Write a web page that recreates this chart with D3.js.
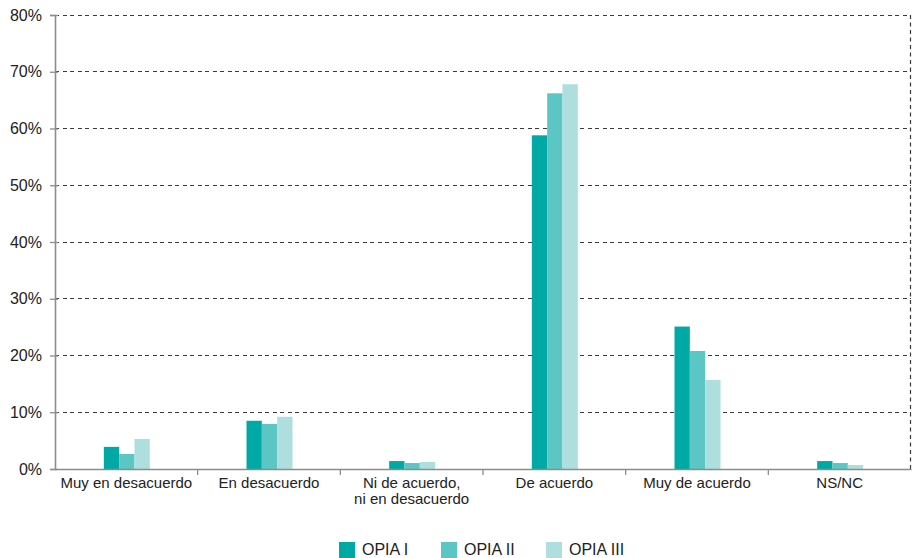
<!DOCTYPE html>
<html>
<head>
<meta charset="utf-8">
<script src="https://cdn.jsdelivr.net/npm/d3@7"></script>
<style>
  html, body { margin: 0; padding: 0; background: #fff; }
  svg { display: block; font-family: "Liberation Sans", Arial, sans-serif; }
</style>
</head>
<body>
<svg id="chart" width="912" height="558"></svg>
<script>
// Response categories (second line after "\n")
const categories = [
  "Muy en desacuerdo",
  "En desacuerdo",
  "Ni de acuerdo,\nni en desacuerdo",
  "De acuerdo",
  "Muy de acuerdo",
  "NS/NC"
];
const seriesNames = ["OPIA I", "OPIA II", "OPIA III"];
const opia1 = [3.9, 8.5, 1.4, 58.8, 25.1, 1.4];
const opia2 = [2.65, 7.95, 1.05, 66.2, 20.8, 1.05];
const opia3 = [5.3, 9.2, 1.25, 67.8, 15.7, 0.7];
const seriesColors = ["#00a9a6", "#5bc6c4", "#aedfde"];
const yTicks = [0, 10, 20, 30, 40, 50, 60, 70, 80];

const seriesValues = [opia1, opia2, opia3];
const rows = categories.map((c, i) => ({
  cat: c,
  vals: seriesNames.map((s, j) => ({ key: s, value: seriesValues[j][i], color: seriesColors[j] }))
}));

const margin = { left: 55, right: 1, top: 15, bottom: 89 };
const W = 912, H = 558;
const svg = d3.select("#chart");

const x = d3.scaleBand().domain(categories).range([margin.left, W - margin.right]).paddingInner(0).paddingOuter(0);
const y = d3.scaleLinear().domain([0, 80]).range([H - margin.bottom, margin.top]);
const groupWidth = 46;
const xs = d3.scaleBand().domain(seriesNames).range([0, groupWidth]);

// dashed gridlines
svg.append("g").selectAll("line").data(yTicks.filter(t => t > 0)).join("line")
  .attr("x1", margin.left).attr("x2", W - margin.right)
  .attr("y1", d => y(d)).attr("y2", d => y(d))
  .attr("stroke", "#3a3a3a").attr("stroke-width", 1).attr("stroke-dasharray", "4,3.5")
  .attr("shape-rendering", "crispEdges");

// right frame edge (dashed)
svg.append("line")
  .attr("x1", W - margin.right - 0.5).attr("x2", W - margin.right - 0.5)
  .attr("y1", y(80)).attr("y2", y(0))
  .attr("stroke", "#3a3a3a").attr("stroke-width", 1.2).attr("stroke-dasharray", "4,3.5");

// bars
const groups = svg.append("g").selectAll("g").data(rows).join("g")
  .attr("transform", d => `translate(${x(d.cat) + x.bandwidth() / 2 - groupWidth / 2 + 0.5},0)`);
groups.selectAll("rect").data(d => d.vals).join("rect")
  .attr("x", d => xs(d.key))
  .attr("width", xs.bandwidth())
  .attr("y", d => y(d.value))
  .attr("height", d => y(0) - y(d.value))
  .attr("fill", d => d.color);

// y axis
const yAxis = svg.append("g").attr("transform", `translate(${margin.left},0)`)
  .call(d3.axisLeft(y).tickValues(yTicks).tickFormat(d => d + "%").tickSize(5).tickPadding(8));
yAxis.select(".domain").attr("stroke", "#8c8c8c").attr("stroke-width", 1.6);
yAxis.selectAll(".tick line").attr("stroke", "#8c8c8c").attr("stroke-width", 1.3).attr("x2", 3).attr("x1", -5);
yAxis.selectAll(".tick text").attr("fill", "#222").attr("font-size", 16).attr("font-family", "Liberation Sans, Arial, sans-serif");

// x axis
const xAxis = svg.append("g").attr("transform", `translate(0,${y(0)})`)
  .call(d3.axisBottom(x).tickSize(0).tickFormat(""));
xAxis.select(".domain").attr("stroke", "#8c8c8c").attr("stroke-width", 1.6);
xAxis.selectAll(".tick").remove();

// boundary ticks between categories
svg.append("g").selectAll("line").data(categories.slice(1)).join("line")
  .attr("x1", d => x(d)).attr("x2", d => x(d))
  .attr("y1", y(0)).attr("y2", y(0) + 6)
  .attr("stroke", "#8c8c8c").attr("stroke-width", 1.3);

// category labels
const lab = svg.append("g").selectAll("text").data(categories).join("text")
  .attr("x", d => x(d) + x.bandwidth() / 2)
  .attr("y", y(0) + 19)
  .attr("text-anchor", "middle")
  .attr("font-size", 15)
  .attr("fill", "#222");
lab.selectAll("tspan").data(d => d.split("\n").map((t, i) => ({ t, i }))).join("tspan")
  .attr("x", function () { return d3.select(this.parentNode).attr("x"); })
  .attr("dy", d => d.i === 0 ? 0 : 16)
  .text(d => d.t);

// legend
const legendX = [339, 441, 546];
const leg = svg.append("g").selectAll("g").data(seriesNames).join("g")
  .attr("transform", (d, i) => `translate(${legendX[i]},542)`);
leg.append("rect").attr("width", 16).attr("height", 16).attr("fill", (d, i) => seriesColors[i]);
leg.append("text").attr("x", 23).attr("y", 12.5).attr("font-size", 16).attr("fill", "#222").text(d => d);
</script>
</body>
</html>
